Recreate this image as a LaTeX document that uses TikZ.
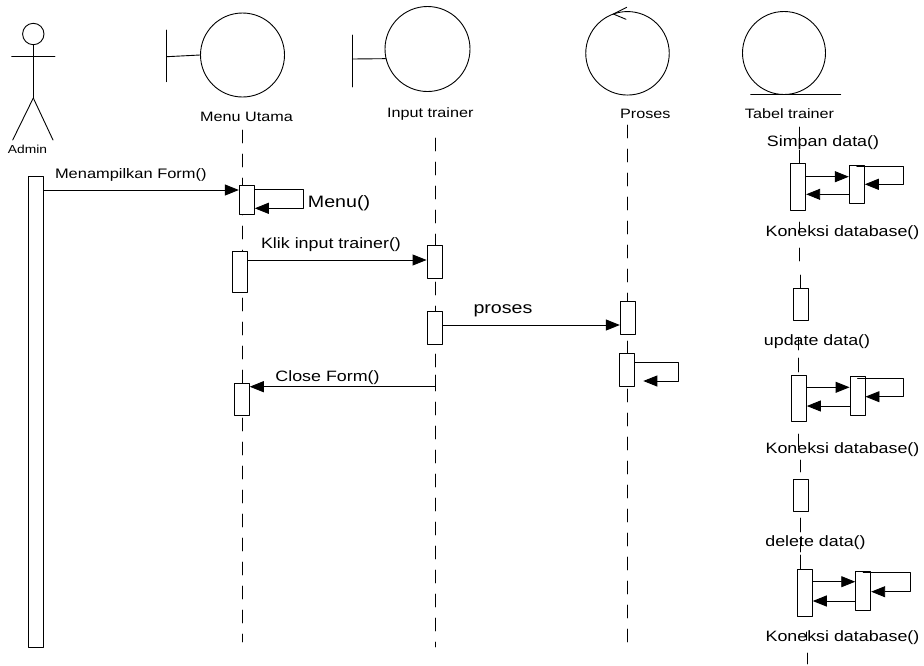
\documentclass[tikz,border=0pt]{standalone}
\usepackage{fontspec}
\setmainfont{Liberation Sans}[FakeStretch=1.19]
\usetikzlibrary{arrows.meta, positioning}

\tikzset{
  actbar/.style={draw, fill=white, inner sep=0pt, minimum width=15pt},
  lifeline/.style={dash pattern=on 13pt off 11pt},
  objicon/.style={draw, circle, inner sep=0pt},
  objlabel/.style={font=\fontsize{13.6}{16}\selectfont, anchor=base, inner sep=0pt},
  msglabel/.style={font=\fontsize{15}{17}\selectfont, anchor=base, inner sep=0pt},
  biglabel/.style={font=\fontsize{16.5}{19}\selectfont, anchor=base, inner sep=0pt},
}

\begin{document}
\begin{tikzpicture}[line cap=round,line join=round,line width=0.9pt,>={Triangle[length=14pt,width=11pt]},x=1pt,y=-1pt]
\useasboundingbox (0,0) rectangle (924,665);

% actor
\node[objicon, minimum size=21.4pt] (head) at (33.3,34) {};
\coordinate (hip) at (33.3,98);
\draw (head.south) -- (hip);
\draw (11.7,56) -- (55,56);
\draw (hip) -- (12.7,140);
\draw (hip) -- (53,140);
\node[objlabel, font=\fontsize{11.6}{14}\selectfont] (admin) at (27.5,153.5) {Admin};

% boundary objects
\node[objicon, minimum size=84pt] (muicon) at (242.5,55) {};
\draw (166.7,30) -- (166.7,81.7);
\draw (166.7,56.7) -- (muicon.west);
\node[objlabel] (mulabel) at (246.5,121.7) {Menu Utama};

\node[objicon, minimum size=85pt] (iticon) at (427.5,49) {};
\draw (352.3,35) -- (352.3,87);
\draw (352.3,59) -- (iticon.193.6);
\node[objlabel] (itlabel) at (430.3,117.3) {Input trainer};

% control object
\node[objicon, minimum size=83.5pt] (pricon) at (627.5,53.3) {};
\draw (626.7,7.3) -- (613.3,14) -- (626,19.3);
\node[objlabel] (prlabel) at (645.3,118.3) {Proses};

% entity object
\node[objicon, minimum size=83pt] (tbicon) at (784,53) {};
\draw (750.7,94) -- (840.7,94);
\node[objlabel] (tblabel) at (789.5,118.3) {Tabel trainer};

% lifelines
\coordinate (mutop) at (242,130);
\coordinate (mubot) at (242,642);
\coordinate (ittop) at (435,138);
\coordinate (itbot) at (435,647);
\coordinate (prtop) at (627,125);
\coordinate (prbot) at (627,643);
\draw[lifeline] (mutop) -- (mubot);
\draw[lifeline] (ittop) -- (itbot);
\draw[lifeline] (prtop) -- (prbot);
\foreach \xl/\ya/\yb in {799/127/147, 799/150/163, 799.3/222/233, 799.3/248/261,
  800/275/288, 798/338/350, 798/358/372, 798/434/447, 800.7/460/472,
  800.7/518/532, 800/537/552, 800/555/569, 806/632/640, 807.7/653/664}
  \draw (\xl,\ya) -- (\xl,\yb);

% activation bars
\node[actbar, minimum height=471.7pt] (adm) at (35.8,411.9) {};
\node[actbar, minimum height=28.6pt] (mu1) at (246.8,200) {};
\node[actbar, minimum height=40.6pt] (mu2) at (239.8,272) {};
\node[actbar, minimum height=32.4pt] (mu3) at (241.8,399.5) {};
\node[actbar, minimum height=32.6pt] (it1) at (434.5,262) {};
\node[actbar, minimum height=33pt] (it2) at (434.5,327.5) {};
\node[actbar, minimum height=32.3pt] (pr1) at (627.8,317.8) {};
\node[actbar, minimum height=32.7pt] (pr2) at (626.8,369.7) {};
\node[actbar, minimum height=46.7pt] (tb1) at (798.2,186.7) {};
\node[actbar, minimum height=38.3pt] (tb2) at (856.8,184.2) {};
\node[actbar, minimum height=32.4pt] (tb3) at (800.5,304.5) {};
\node[actbar, minimum height=46.7pt] (tb4) at (798.9,398.3) {};
\node[actbar, minimum height=38.3pt] (tb5) at (857.5,395.8) {};
\node[actbar, minimum height=32.4pt] (tb6) at (800.5,495.5) {};
\node[actbar, minimum height=46.7pt] (tb7) at (804.8,592.7) {};
\node[actbar, minimum height=39pt] (tb8) at (863.2,590.5) {};

% messages
\draw [->] (adm.east |- 0,190) -- (mu1.west |- 0,190);
\node[msglabel, font=\fontsize{13.8}{16}\selectfont] (m1) at (130.8,178.3) {Menampilkan Form()};
\draw [->] (mu1.east |- 0,189.3) -- (303.3,189.3) -- (303.3,208.3) -- (mu1.east |- 0,208.3);
\node[biglabel] (m2) at (339,207) {Menu()};
\draw [->] (mu2.east |- 0,260) -- (it1.west |- 0,260);
\node[msglabel] (m3) at (331,248.3) {Klik input trainer()};
\draw [->] (it2.east |- 0,325) -- (pr1.west |- 0,325);
\node[biglabel] (m4) at (503,313.3) {proses};
\coordinate (itclose) at (435,375);
\draw [->] (itclose) -- (435,386.7) -- (mu3.east |- 0,386.7);
\node[msglabel] (m5) at (327.5,381.7) {Close Form()};
\coordinate (prret) at (643.3,381);
\draw [->] (pr2.east |- 0,362.3) -- (678.3,362.3) -- (678.3,381) -- (prret);

% tabel trainer calls
\node[msglabel] (t1) at (823,146.7) {Simpan data()};
\draw [->] (tb1.east |- 0,176.7) -- (tb2.west |- 0,176.7);
\draw [->] (tb2 |- 0,166.7) -- (903.3,166.7) -- (903.3,184.3) -- (tb2.east |- 0,184.3);
\draw [->] (tb2.west |- 0,194.3) -- (tb1.east |- 0,194.3);
\node[msglabel] (t2) at (842.5,236.7) {Koneksi database()};

\node[msglabel] (t3) at (817,345) {update data()};
\draw [->] (tb4.east |- 0,387.3) -- (tb5.west |- 0,387.3);
\draw [->] (tb5 |- 0,378.3) -- (903.3,378.3) -- (903.3,396.7) -- (tb5.east |- 0,396.7);
\draw [->] (tb5.west |- 0,406) -- (tb4.east |- 0,406);
\node[msglabel] (t4) at (842.5,453.3) {Koneksi database()};

\node[msglabel] (t5) at (815.5,546) {delete data()};
\draw [->] (tb7.east |- 0,581.7) -- (tb8.west |- 0,581.7);
\draw [->] (tb8 |- 0,572.3) -- (910,572.3) -- (910,591.7) -- (tb8.east |- 0,591.7);
\draw [->] (tb8.west |- 0,601) -- (tb7.east |- 0,601);
\node[msglabel] (t6) at (842.5,641.7) {Koneksi database()};

\end{tikzpicture}
\end{document}
